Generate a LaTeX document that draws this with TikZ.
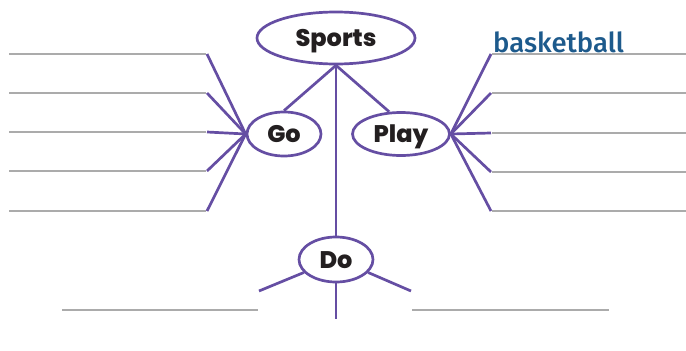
\documentclass[tikz,border=0pt]{standalone}
\usepackage{fontspec}
\setmainfont{Poppins}
\newfontfamily\labelfont{Poppins}[UprightFont=* ExtraBold]
\newfontfamily\handfont{Fira Sans}[UprightFont=* Medium]
\usetikzlibrary{shapes.geometric}
\definecolor{web}{HTML}{654EA3}
\definecolor{rule}{HTML}{ABABAB}
\definecolor{ink}{HTML}{231F20}
\definecolor{answer}{HTML}{1D5A8C}
\tikzset{
  bubble/.style={ellipse, draw=web, line width=2.7pt, inner sep=0pt, text=ink,
    text height=17pt, text depth=0pt,
    font=\labelfont\fontsize{24}{26}\selectfont},
  spoke/.style={draw=web, line width=2.7pt},
  writeline/.style={draw=rule, line width=1.5pt}
}
\begin{document}
\begin{tikzpicture}[x=1pt,y=-1pt]
\useasboundingbox (0,0) rectangle (686,351);
% bubbles
\node[bubble, minimum width=158pt, minimum height=52pt] (sports) at (336,38) {Sports};
\node[bubble, minimum width=74pt, minimum height=44pt] (go) at (284,134) {Go};
\node[bubble, minimum width=97pt, minimum height=43pt] (play) at (401,134) {Play};
\node[bubble, minimum width=74pt, minimum height=45pt] (do) at (336,259.5) {Do};
% main connectors
\draw[spoke] (sports.south) -- (go.north);
\draw[spoke] (sports.south) -- (play.118);
\draw[spoke] (sports.south) -- (do.north);
% left side
\foreach \i/\y in {1/54,2/93,3/132,4/171,5/211}{
  \coordinate (gl\i) at (207,\y);
  \coordinate (gs\i) at (9,\y);
  \draw[writeline] (gs\i) -- (206,\y);
  \draw[spoke] (gl\i) -- (go.west);
}
% right side
\foreach \i/\y in {1/54,2/93,3/133,4/172,5/211}{
  \coordinate (pl\i) at (491,\y);
  \coordinate (pe\i) at (686,\y);
  \draw[writeline] (492,\y) -- (pe\i);
  \draw[spoke] (play.east) -- (pl\i);
}
% bottom
\coordinate (dl) at (259,291);
\coordinate (dr) at (411,291);
\coordinate (db) at (336,319);
\draw[spoke] (do.202) -- (dl);
\draw[spoke] (do.-22) -- (dr);
\draw[spoke] (do.south) -- (db);
\coordinate (bl1) at (62,310);
\coordinate (bl2) at (258,310);
\coordinate (br1) at (412,310);
\coordinate (br2) at (609,310);
\draw[writeline] (bl1) -- (bl2);
\draw[writeline] (br1) -- (br2);
% answer
\node[anchor=base west, inner sep=0pt, text=answer, font=\handfont\fontsize{27.5}{30}\selectfont] (ans) at (493,52.5) {basketball};
\end{tikzpicture}
\end{document}
